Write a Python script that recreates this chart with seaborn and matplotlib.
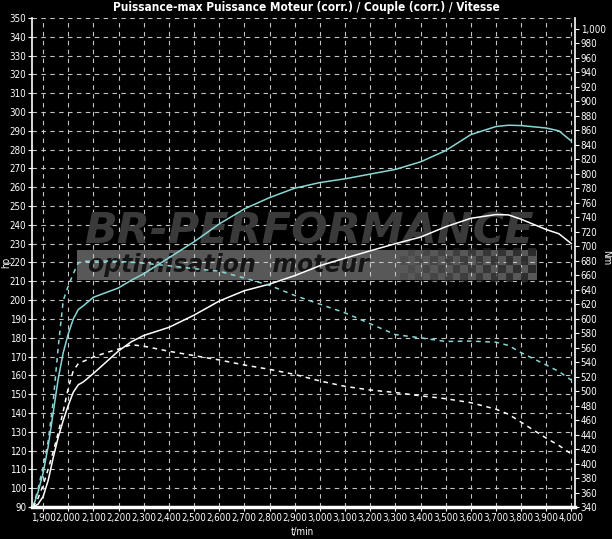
import numpy as np
import pandas as pd
import matplotlib
matplotlib.use("Agg")
import matplotlib.pyplot as plt
from matplotlib.patches import Rectangle
import seaborn as sns

# dyno run
rpm = [1860, 1880, 1900, 1920, 1940, 1960, 1980, 2000, 2020, 2040, 2060,
       2100, 2150, 2200, 2250, 2300, 2400, 2500, 2600, 2700, 2800, 2900,
       3000, 3100, 3200, 3300, 3400, 3500, 3600, 3700, 3750, 3800, 3900,
       3950, 4000]
hp_corr = [90, 98, 108, 122, 140, 158, 172, 182, 190, 195, 197,
           201.5, 204, 206.5, 210.5, 214, 222.5, 231, 240.5, 248.5, 254.5, 259.5,
           262.5, 264.5, 267, 269.5, 273.5, 279.5, 288, 292.3, 293, 292.8, 291.5,
           290, 284.5]
hp = [90, 91.5, 95.5, 104, 116, 127, 136, 144, 151, 155, 156.5,
      161, 167, 173, 177.8, 181.2, 185.5, 192, 199.5, 205, 208.5, 213,
      218.3, 222.3, 226.2, 230, 233.5, 239, 243.5, 245.5, 245.3, 243, 237.5,
      235.3, 230]
nm_corr = [340, 365, 395, 430, 485, 560, 625, 645, 662, 677, 679,
           679.5, 679.5, 679, 678, 676.5, 673, 669, 665.5, 656, 646, 632,
           620, 608, 593, 578, 573.5, 568.5, 569, 567.5, 563, 553, 536,
           527, 515]
nm = [340, 352, 370, 392, 416, 442, 472, 504, 528, 538, 541,
      547, 553, 558, 564, 562, 555, 549, 543, 536, 530, 523,
      514, 506.5, 501.5, 498, 493.5, 489.5, 484, 475, 468, 457, 435,
      425, 413]

x_ticks = list(range(1900, 4001, 100))
hp_ticks = list(range(90, 351, 10))
nm_ticks = list(range(340, 1001, 20))
title = "Puissance-max Puissance Moteur (corr.) / Couple (corr.) / Vitesse"

sns.set_theme(style="ticks", rc={
    "figure.facecolor": "black", "axes.facecolor": "black",
    "axes.edgecolor": "white", "text.color": "white",
    "xtick.color": "white", "ytick.color": "white",
    "axes.labelcolor": "white"})
plt.rcParams['font.family'] = ['DejaVu Sans']
plt.rcParams['font.stretch'] = 'condensed'

df = pd.DataFrame({'rpm': rpm, 'hp_corr': hp_corr, 'hp': hp,
                   'nm_corr': nm_corr, 'nm': nm})

W, H = 612, 539
fig = plt.figure(figsize=(W / 100, H / 100), dpi=100)
ax = fig.add_axes([32 / W, 1 - 507 / H, 543 / W, 489 / H])
ax2 = ax.twinx()

cyan = '#8ad6d6'
dash = (0, (3, 3))
sns.lineplot(data=df, x='rpm', y='hp_corr', ax=ax, color=cyan, lw=1.1)
sns.lineplot(data=df, x='rpm', y='hp', ax=ax, color='white', lw=1.1)
sns.lineplot(data=df, x='rpm', y='nm_corr', ax=ax2, color=cyan, lw=1.1, linestyle=dash)
sns.lineplot(data=df, x='rpm', y='nm', ax=ax2, color='white', lw=1.1, linestyle=dash)


# watermark, in axes fractions (from pixel positions)
def axfrac(x, y):
    return (x - 32) / 543, (507 - y) / 489


x0, y0 = axfrac(77, 280)
x1, y1 = axfrac(537, 250)
ax.add_patch(Rectangle((x0, y0), x1 - x0, y1 - y0, transform=ax.transAxes,
                       color='#585858', zorder=0.5, lw=0))
cx0, cy0 = axfrac(400, 282)
cx1, cy1 = axfrac(536, 248)
ii, jj = np.indices((4, 18))
checker = ((ii + jj) % 2).astype(float)
rgba = np.zeros((4, 18, 4))
rgba[..., :3] = 0.15
rgba[..., 3] = checker * np.linspace(0.2, 0.9, 18)[None, :]
ax.imshow(rgba, extent=(cx0, cx1, cy0, cy1), transform=ax.transAxes,
          aspect='auto', zorder=0.6, interpolation='nearest')
tx, ty = axfrac(88, 265)
ax.text(tx, ty, 'optimisation  moteur', transform=ax.transAxes, ha='left', va='center',
        fontsize=17, fontweight='bold', style='italic', color='#151515',
        fontstretch='normal', zorder=0.7)
tx, ty = axfrac(84, 231)
ax.text(tx, ty, 'BR-PERFORMANCE', transform=ax.transAxes, ha='left', va='center',
        fontsize=31, fontweight='bold', style='italic', color='#3a3a3a',
        fontstretch='normal', zorder=0.7)

ax.set_xlim(1856, 4014)
ax.set_ylim(90, 350)
ax2.set_ylim(340, 1015)

ax.set_xticks(x_ticks)
ax.set_xticklabels([f"{v:,}" for v in x_ticks])
ax.set_yticks(hp_ticks)
ax2.set_yticks(nm_ticks)
ax2.set_yticklabels([f"{v:,}" for v in nm_ticks])
ax.set_xlabel('')
ax.set_ylabel('')
ax2.set_ylabel('')

ax.grid(True, color='#c4c4c4', linestyle=(0, (4, 4)), linewidth=0.8)
ax2.grid(False)
ax.tick_params(axis='both', colors='white', labelsize=7, length=3, width=0.8, pad=1)
ax2.tick_params(axis='y', colors='white', labelsize=7, length=3, width=0.8, pad=1)

ax.spines['top'].set_visible(False)
for s in ['top', 'left', 'bottom']:
    ax2.spines[s].set_visible(False)
ax.spines['left'].set_color('white')
ax.spines['left'].set_linewidth(1.2)
ax.spines['bottom'].set_color('white')
ax.spines['bottom'].set_linewidth(2.5)
ax.spines['right'].set_visible(False)
ax2.spines['right'].set_color('white')
ax2.spines['right'].set_linewidth(1.2)

fig.text(0.5, 1 - 8 / H, title, ha='center', va='center', fontsize=8.5,
         fontweight='bold', color='white')
fig.text(6 / W, 1 - 262 / H, 'hp', rotation=90, ha='center', va='center',
         fontsize=7, color='white')
fig.text(606 / W, 1 - 258 / H, 'Nm', rotation=270, ha='center', va='center',
         fontsize=7, color='white')
fig.text(302 / W, 1 - 532 / H, 't/min', ha='center', va='center',
         fontsize=7, color='white')

fig.savefig('out.png', dpi=100, facecolor='black')
